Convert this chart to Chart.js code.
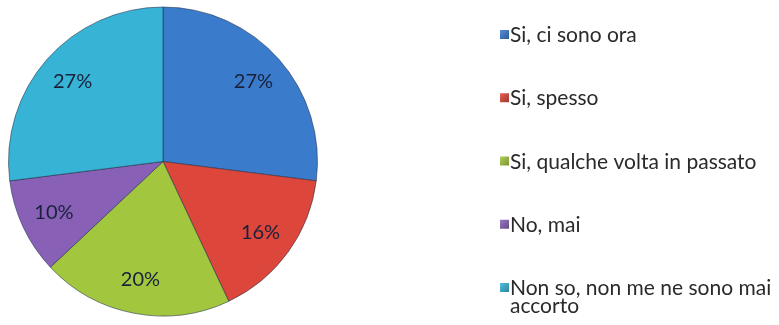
<!DOCTYPE html>
<html>
<head>
<meta charset="utf-8">
<script src="https://cdn.jsdelivr.net/npm/chart.js@4/dist/chart.umd.min.js"></script>
<style>
  html, body { margin: 0; padding: 0; background: #ffffff; }
  #wrap { width: 779px; height: 325px; position: relative; }
</style>
</head>
<body>
<div id="wrap"><canvas id="chart" width="779" height="325"></canvas></div>
<script>
// Survey answers and their shares (percent)
const categories = [
  'Si, ci sono ora',
  'Si, spesso',
  'Si, qualche volta in passato',
  'No, mai',
  'Non so, non me ne sono mai accorto'
];
const shares = [27, 16, 20, 10, 27];
const sliceColors = ['#3a7bcc', '#dc463b', '#a3c63f', '#8861b7', '#37b3d6'];

const FONT = '"Lato", "Open Sans", sans-serif';

function shade(hex, f) {
  const n = parseInt(hex.slice(1), 16);
  let r = (n >> 16) & 255, g = (n >> 8) & 255, b = n & 255;
  const mix = f >= 0 ? 255 : 0;
  const t = Math.abs(f);
  r = Math.round(r + (mix - r) * t);
  g = Math.round(g + (mix - g) * t);
  b = Math.round(b + (mix - b) * t);
  return `rgb(${r},${g},${b})`;
}

// Soft bevel: slightly lighter body with a darker rim
function sliceFill(context) {
  const chart = context.chart;
  const area = chart.chartArea;
  const base = sliceColors[context.dataIndex];
  if (!area) return base;
  const meta = chart.getDatasetMeta(0);
  const arc = meta.data[context.dataIndex];
  if (!arc || !arc.outerRadius) return base;
  const g = chart.ctx.createRadialGradient(arc.x, arc.y - arc.outerRadius * 0.2, 0, arc.x, arc.y, arc.outerRadius);
  g.addColorStop(0, shade(base, 0.06));
  g.addColorStop(0.88, base);
  g.addColorStop(0.97, shade(base, -0.12));
  g.addColorStop(1, shade(base, -0.25));
  return g;
}

// Percent labels inside each slice
const sliceLabels = {
  id: 'sliceLabels',
  afterDatasetsDraw(chart) {
    const ctx = chart.ctx;
    const meta = chart.getDatasetMeta(0);
    ctx.save();
    ctx.font = '20px ' + FONT;
    ctx.fillStyle = '#19213a';
    ctx.textAlign = 'center';
    ctx.textBaseline = 'middle';
    meta.data.forEach((arc, i) => {
      const mid = (arc.startAngle + arc.endAngle) / 2;
      const r = arc.outerRadius * 0.78;
      ctx.fillText(shares[i] + '%', arc.x + Math.cos(mid) * r, arc.y + Math.sin(mid) * r);
    });
    ctx.restore();
  }
};

// Legend column on the right
const sideLegend = {
  id: 'sideLegend',
  afterDraw(chart) {
    const ctx = chart.ctx;
    const x0 = 500, box = 9, textX = 510;
    const firstBase = 42, step = 63.25, lineH = 18, maxW = 268;
    ctx.save();
    ctx.font = '21px ' + FONT;
    ctx.textBaseline = 'alphabetic';
    ctx.textAlign = 'left';
    categories.forEach((label, i) => {
      const base = firstBase + i * step;
      // wrap long labels
      const words = label.split(' ');
      const lines = [];
      let cur = '';
      words.forEach(w => {
        const t = cur ? cur + ' ' + w : w;
        if (ctx.measureText(t).width > maxW && cur) { lines.push(cur); cur = w; }
        else cur = t;
      });
      if (cur) lines.push(cur);
      const col = sliceColors[i];
      const g = ctx.createLinearGradient(x0, base - 12, x0 + box, base - 12 + box);
      g.addColorStop(0, shade(col, 0.15));
      g.addColorStop(1, shade(col, -0.25));
      ctx.fillStyle = g;
      ctx.fillRect(x0, base - 12, box, box);
      ctx.fillStyle = '#2a2a2a';
      lines.forEach((ln, k) => ctx.fillText(ln, textX, base + k * lineH));
    });
    ctx.restore();
  }
};

new Chart(document.getElementById('chart'), {
  type: 'pie',
  data: {
    labels: categories,
    datasets: [{
      data: shares,
      backgroundColor: sliceFill,
      borderColor: 'rgba(30,45,70,0.55)',
      borderWidth: 1
    }]
  },
  options: {
    responsive: false,
    animation: false,
    layout: { padding: { left: 8, right: 461, top: 5, bottom: 7 } },
    plugins: {
      legend: { display: false },
      tooltip: { enabled: false }
    }
  },
  plugins: [sliceLabels, sideLegend]
});
</script>
</body>
</html>
